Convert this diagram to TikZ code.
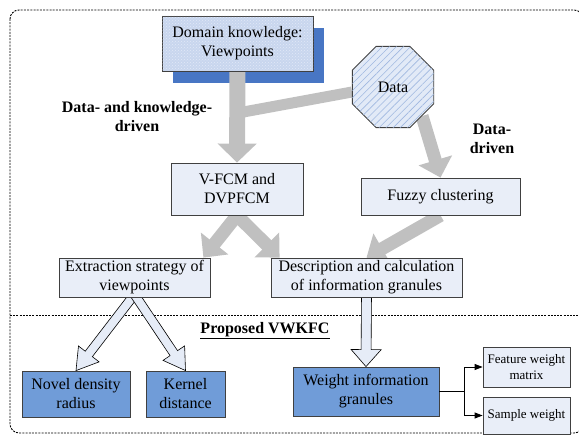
\documentclass[tikz,border=0pt]{standalone}
\usepackage{fontspec}
\setmainfont{Liberation Serif}
\usetikzlibrary{shapes.geometric,arrows.meta,calc,patterns,patterns.meta,backgrounds}

\definecolor{boxfill}{RGB}{233,238,248}
\definecolor{boxline}{RGB}{64,64,64}
\definecolor{darkfill}{RGB}{112,156,216}
\definecolor{shadowblue}{RGB}{72,118,196}
\definecolor{domfill}{RGB}{200,214,238}
\definecolor{domdots}{RGB}{226,233,247}
\definecolor{octfill}{RGB}{226,234,247}
\definecolor{hatch}{RGB}{160,184,224}
\definecolor{arrowgray}{RGB}{192,192,192}
\definecolor{hollowfill}{RGB}{230,236,247}

\tikzset{
  box/.style={draw=boxline, fill=boxfill, line width=0.8pt, align=center, inner sep=2pt},
  darkbox/.style={box, fill=darkfill},
  smallbox/.style={box, font=\fontsize{13}{16}\selectfont},
  fat/.style={draw=arrowgray, line width=13pt, -{Triangle[width=34pt,length=18pt]}},
  hollow/.style={fill=hollowfill, draw=black, line width=0.6pt, line join=miter},
  drvtext/.style={font=\bfseries\fontsize{16}{19}\selectfont, align=center},
  borderline/.style={dash pattern=on 2pt off 1.2pt, line width=0.9pt},
  tiparrow/.style={line width=0.8pt, -{Triangle[length=8pt,width=6pt]}}
}

% hollow arrow: tail, tip, shaft half width, head half width, head length
\newcommand{\hollowarrow}[5]{%
  \path ($(#2)!#5!(#1)$) coordinate (habase);
  \filldraw[hollow] ($(#1)!#3!90:(#2)$) -- ($(habase)!#3!90:(#2)$)
    -- ($(habase)!#4!90:(#2)$) -- (#2) -- ($(habase)!#4!-90:(#2)$)
    -- ($(habase)!#3!-90:(#2)$) -- ($(#1)!#3!-90:(#2)$) -- cycle;
}

\begin{document}
\begin{tikzpicture}[x=1pt, y=-1pt, font=\fontsize{16}{19}\selectfont]
  \useasboundingbox (0,0) rectangle (579,436);

  % top part
  \node[box, fill=domfill, postaction={pattern=crosshatch dots, pattern color=domdots},
        minimum width=151pt, minimum height=55pt] (dom) at (237.5,43.5) {Domain knowledge:\\Viewpoints};
  \node[draw=boxline, line width=0.8pt, regular polygon, regular polygon sides=8, minimum size=88pt,
        fill=octfill, postaction={pattern={Lines[angle=45,distance=5pt,line width=0.6pt]}, pattern color=hatch}] (data) at (393,87) {Data};
  \node[drvtext] (dkd) at (137,117) {Data- and knowledge-\\driven};
  \node[drvtext] (dd) at (492,139) {Data-\\driven};

  \node[box, minimum width=132pt, minimum height=52pt] (vfcm) at (237,189) {V-FCM and\\DVPFCM};
  \node[box, minimum width=159pt, minimum height=37pt] (fuzzy) at (440.5,196.5) {Fuzzy clustering};
  \node[box, minimum width=151pt, minimum height=39pt] (extr) at (134.5,277.5) {Extraction strategy of\\viewpoints};
  \node[box, minimum width=191pt, minimum height=39pt] (desc) at (366.5,277.5) {Description and calculation\\of information granules};

  % proposed part
  \node[drvtext] (prop) at (265,331) {\underline{Proposed VWKFC}};
  \node[darkbox, minimum width=108pt, minimum height=46pt] (novel) at (76,394) {Novel density\\radius};
  \node[darkbox, minimum width=79pt, minimum height=46pt] (kern) at (185.5,394) {Kernel\\distance};
  \node[darkbox, minimum width=146pt, minimum height=49pt] (wig) at (366,391.5) {Weight information\\granules};
  \node[smallbox, minimum width=87pt, minimum height=40pt] (feat) at (526.5,367) {Feature weight\\matrix};
  \node[smallbox, minimum width=87pt, minimum height=37pt] (samp) at (526.5,415.5) {Sample weight};

  \begin{scope}[on background layer]
    \draw[borderline, rounded corners=9pt] (10,10) rectangle (583,433);
    \draw[borderline] (10,315) -- (579,315);
    \fill[shadowblue] ([shift={(11,12)}]dom.north west) rectangle ([shift={(11,12)}]dom.south east);

    \coordinate (joint) at (238,113);
    \draw[fat, line width=16pt, -{Triangle[width=38pt,length=19pt]}] (dom.south) -- (vfcm.north);
    \draw[fat, line width=11pt, -] ([yshift=-5pt]data.west) -- (joint);
    \draw[fat] (data.south east) -- (fuzzy.north);
    \draw[fat] (vfcm.south) -- ([xshift=-7pt]extr.north east);
    \draw[fat] (vfcm.south) -- ([xshift=9pt]desc.north west);
    \draw[fat] (fuzzy.south) -- (desc.north);

    \coordinate (extrtail) at ([yshift=3pt]extr.south);
    \coordinate (desctail) at ([yshift=3pt]desc.south);
    \hollowarrow{extrtail}{novel.north}{4.5pt}{13pt}{21pt}
    \hollowarrow{extrtail}{kern.north}{4.5pt}{13pt}{21pt}
    \hollowarrow{desctail}{wig.north}{5pt}{15pt}{17pt}
  \end{scope}

  \coordinate (fork) at ($(wig.east)+(25,0)$);
  \draw[line width=0.8pt] (wig.east) -- (fork);
  \draw[tiparrow] (fork) |- (feat.west);
  \draw[tiparrow] (fork) |- (samp.west);
\end{tikzpicture}
\end{document}
